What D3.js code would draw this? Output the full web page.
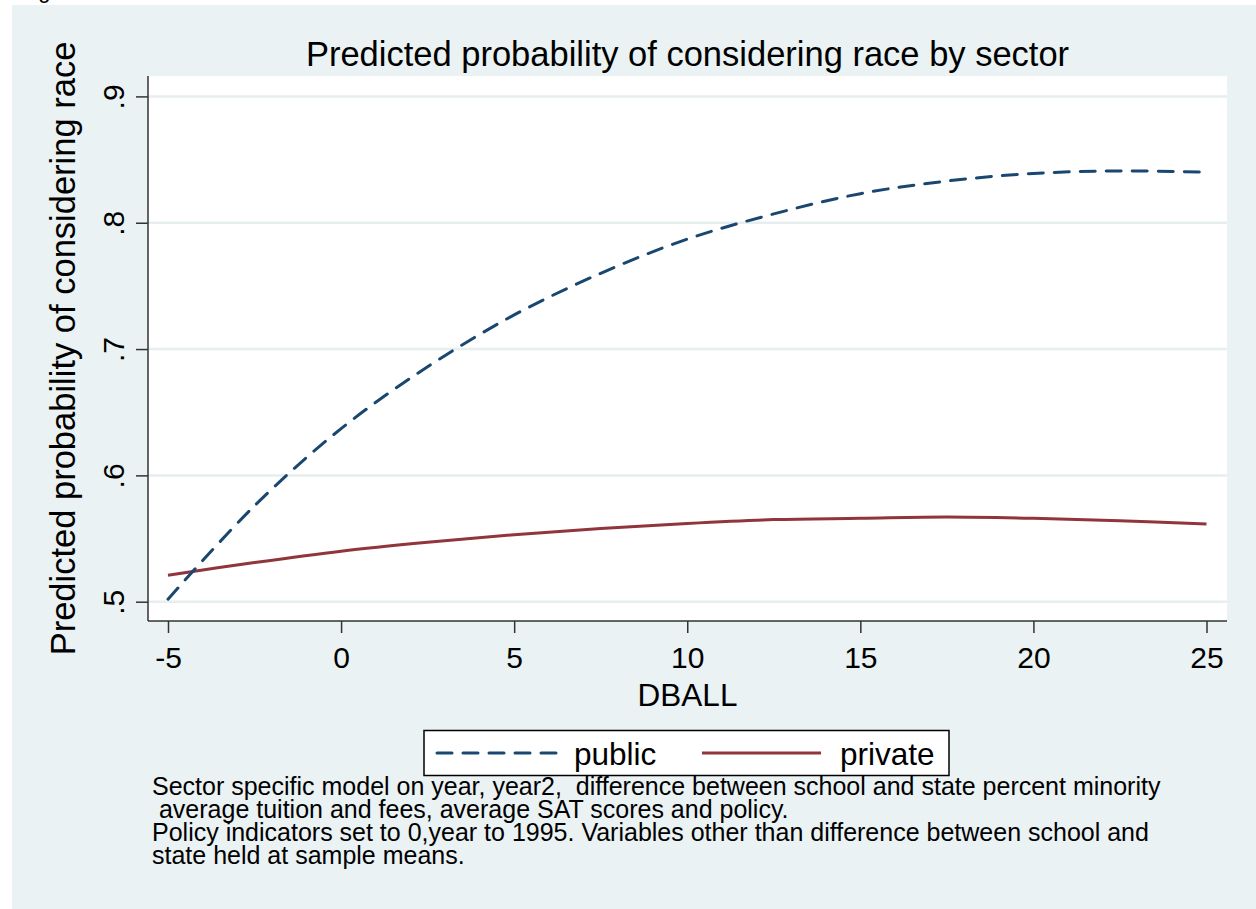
<!DOCTYPE html>
<html>
<head>
<meta charset="utf-8">
<script src="https://cdn.jsdelivr.net/npm/d3@7"></script>
<style>
  body { margin: 0; background: #fff; }
  svg { display: block; font-family: "Liberation Sans", Arial, sans-serif; }
</style>
</head>
<body>
<svg id="chart"></svg>
<script>
const xValues = [-5, -2.5, 0, 2.5, 5, 7.5, 10, 12.5, 15, 17.5, 20, 22.5, 25];
const publicValues = [0.502, 0.576, 0.637, 0.686, 0.727, 0.760, 0.787, 0.807, 0.823, 0.833, 0.839, 0.841, 0.840];
const privateValues = [0.521, 0.531, 0.540, 0.547, 0.553, 0.558, 0.562, 0.565, 0.566, 0.567, 0.566, 0.564, 0.5615];
const xTicks = [-5, 0, 5, 10, 15, 20, 25];
const yTicks = [0.5, 0.6, 0.7, 0.8, 0.9];
const seriesNames = ["public", "private"];
const noteLines = [
    "Sector specific model on year, year2,  difference between school and state percent minority",
    " average tuition and fees, average SAT scores and policy.",
    "Policy indicators set to 0,year to 1995. Variables other than difference between school and",
    "state held at sample means."
];

const width = 1256, height = 909;
const plot = { left: 148, right: 1227, top: 76, bottom: 621 };
const navy = "#1a476f", maroon = "#90353b";

const svg = d3.select("#chart")
    .attr("width", width)
    .attr("height", height);

// graph region
svg.append("rect")
    .attr("x", 12).attr("y", 5)
    .attr("width", width - 12).attr("height", height - 5)
    .attr("fill", "#eaf2f3");

// caption above the graph, mostly off the top edge
svg.append("text")
    .attr("x", 20).attr("y", -2)
    .attr("font-size", "22px")
    .text("Figure");

svg.append("rect")
    .attr("x", plot.left).attr("y", plot.top)
    .attr("width", plot.right - plot.left).attr("height", plot.bottom - plot.top)
    .attr("fill", "#fff");

const x = d3.scaleLinear().domain([-5, 25]).range([168, 1206.5]);
const y = d3.scaleLinear().domain([0.5, 0.9]).range([601.7, 96.4]);

// grid
svg.selectAll(".grid")
    .data(yTicks)
    .join("line")
    .attr("x1", plot.left).attr("x2", plot.right)
    .attr("y1", d => y(d)).attr("y2", d => y(d))
    .attr("stroke", "#e6eef0")
    .attr("stroke-width", 2.5);

// x axis
const xAxis = svg.append("g")
    .attr("transform", `translate(0,${plot.bottom})`)
    .call(d3.axisBottom(x).tickValues(xTicks).tickSize(12).tickSizeOuter(0)
        .tickFormat(d => String(d)));
xAxis.select(".domain").attr("d", `M${plot.left},0H${plot.right}`)
    .attr("stroke", "#333").attr("stroke-width", 1.5);
xAxis.selectAll("line").attr("stroke", "#333").attr("stroke-width", 1.5);
xAxis.selectAll("text")
    .attr("y", 47).attr("dy", null)
    .attr("font-size", "30px")
    .attr("fill", "#000")
    .style("font-family", "Liberation Sans, Arial, sans-serif");

// y axis
const yAxis = svg.append("g")
    .attr("transform", `translate(${plot.left},0)`)
    .call(d3.axisLeft(y).tickValues(yTicks).tickSize(12).tickSizeOuter(0)
        .tickFormat(d => String(+d.toFixed(1)).replace(/^0/, "")));
yAxis.select(".domain").attr("d", `M0,${plot.top}V${plot.bottom}`)
    .attr("stroke", "#333").attr("stroke-width", 1.5);
yAxis.selectAll("line").attr("stroke", "#333").attr("stroke-width", 1.5);
yAxis.selectAll("text")
    .attr("x", null).attr("dy", null)
    .attr("transform", "translate(-24,0) rotate(-90)")
    .attr("text-anchor", "middle")
    .attr("font-size", "30px")
    .attr("fill", "#000")
    .style("font-family", "Liberation Sans, Arial, sans-serif");

// lines
const line = d3.line()
    .x((d, i) => x(xValues[i]))
    .y(d => y(d))
    .curve(d3.curveCatmullRom);

svg.append("path")
    .attr("d", line(privateValues))
    .attr("fill", "none")
    .attr("stroke", maroon)
    .attr("stroke-width", 3);

svg.append("path")
    .attr("d", line(publicValues))
    .attr("fill", "none")
    .attr("stroke", navy)
    .attr("stroke-width", 3)
    .attr("stroke-linecap", "round")
    .attr("stroke-dasharray", "15 11");

// titles
svg.append("text")
    .attr("x", (plot.left + plot.right) / 2).attr("y", 66)
    .attr("text-anchor", "middle")
    .attr("font-size", "34.5px")
    .text("Predicted probability of considering race by sector");

svg.append("text")
    .attr("transform", `translate(75,${(plot.top + plot.bottom) / 2}) rotate(-90)`)
    .attr("text-anchor", "middle")
    .attr("font-size", "34.5px")
    .text("Predicted probability of considering race");

svg.append("text")
    .attr("x", (plot.left + plot.right) / 2).attr("y", 706)
    .attr("text-anchor", "middle")
    .attr("font-size", "31.5px")
    .text("DBALL");

// legend
const legend = svg.append("g");
legend.append("rect")
    .attr("x", 424).attr("y", 730.5)
    .attr("width", 525).attr("height", 45)
    .attr("fill", "#fff")
    .attr("stroke", "#000")
    .attr("stroke-width", 1.5);

const legendItems = [
    { name: seriesNames[0], color: navy, dash: "15 11", x1: 437, x2: 557, tx: 574 },
    { name: seriesNames[1], color: maroon, dash: null, x1: 702, x2: 821, tx: 840 }
];
legendItems.forEach(d => {
    legend.append("line")
        .attr("x1", d.x1).attr("x2", d.x2)
        .attr("y1", 753).attr("y2", 753)
        .attr("stroke", d.color)
        .attr("stroke-width", 3)
        .attr("stroke-linecap", d.dash ? "round" : "butt")
        .attr("stroke-dasharray", d.dash);
    legend.append("text")
        .attr("x", d.tx).attr("y", 765)
        .attr("font-size", "31.5px")
        .text(d.name);
});

// note
svg.append("g")
    .selectAll("text")
    .data(noteLines)
    .join("text")
    .attr("x", 152)
    .attr("y", (d, i) => 795 + i * 23)
    .attr("font-size", "25px")
    .attr("xml:space", "preserve")
    .style("white-space", "pre")
    .text(d => d);
</script>
</body>
</html>
